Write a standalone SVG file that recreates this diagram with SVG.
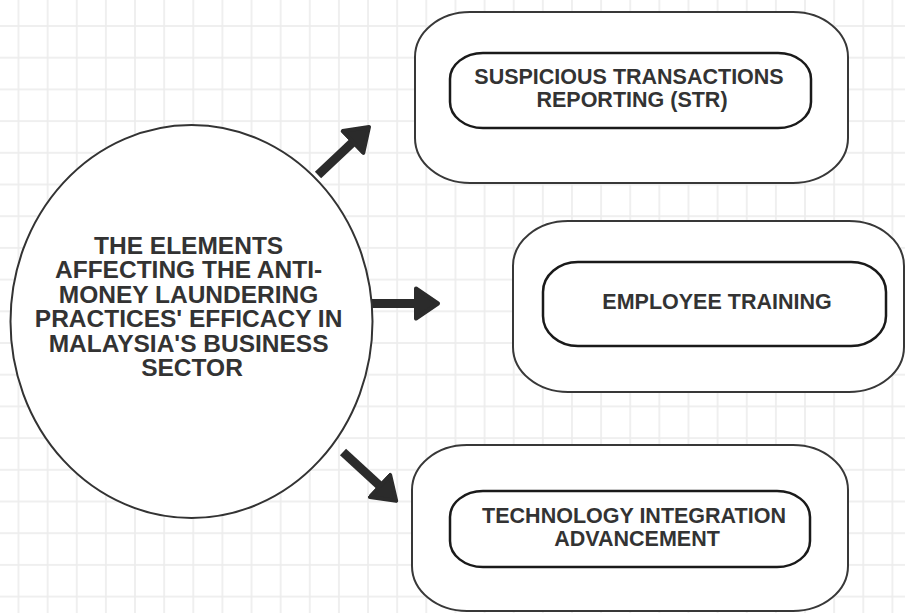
<svg xmlns="http://www.w3.org/2000/svg" width="905" height="613" viewBox="0 0 905 613">
  <style>
    .bg { fill: #ffffff; }
    .outer { fill: #ffffff; stroke: #383838; stroke-width: 2; }
    .inner { fill: #ffffff; stroke: #1a1a1a; stroke-width: 2.5; }
    .hub { fill: #ffffff; stroke: #333333; stroke-width: 2; }
    .label { font-family: "Liberation Sans", Arial, sans-serif; font-weight: bold; fill: #333333; text-anchor: middle; }
    .box-label { font-size: 21.5px; }
    .hub-label { font-size: 24.5px; }
    .link { stroke: #2b2b2b; stroke-width: 9; fill: none; marker-end: url(#head); }
  </style>
  <defs>
    <pattern id="grid" patternUnits="userSpaceOnUse" x="3.93" y="10.15" width="29.13" height="31.7">
      <line x1="14.57" y1="0" x2="14.57" y2="31.7" stroke="#ececec" stroke-width="1.6"/>
      <line x1="0" y1="15.85" x2="29.13" y2="15.85" stroke="#ececec" stroke-width="1.6"/>
    </pattern>
    <marker id="head" markerUnits="userSpaceOnUse" viewBox="0 0 27 36" markerWidth="27" markerHeight="36" refX="2" refY="18" orient="auto">
      <path d="M2,3 L24,18 L2,33 Z" fill="#2b2b2b" stroke="#2b2b2b" stroke-width="4" stroke-linejoin="round"/>
    </marker>
  </defs>

  <!-- canvas with grid -->
  <rect class="bg" x="0" y="0" width="905" height="613"/>
  <rect x="0" y="0" width="905" height="613" fill="url(#grid)"/>

  <!-- connectors -->
  <g id="connectors">
    <line class="link" x1="318" y1="175" x2="353" y2="142"/>
    <line class="link" x1="372" y1="303.5" x2="416" y2="303.5"/>
    <line class="link" x1="343" y1="452" x2="380" y2="486"/>
  </g>

  <!-- central topic -->
  <g id="hub">
    <ellipse class="hub" cx="191.5" cy="321.5" rx="181" ry="196.5"/>
    <text class="label hub-label">
      <tspan x="192" y="254">THE ELEMENTS</tspan>
      <tspan x="192" y="278.4">AFFECTING THE ANTI-</tspan>
      <tspan x="192" y="302.8">MONEY LAUNDERING</tspan>
      <tspan x="192" y="327.2">PRACTICES' EFFICACY IN</tspan>
      <tspan x="192" y="351.6">MALAYSIA'S BUSINESS</tspan>
      <tspan x="192" y="376">SECTOR</tspan>
    </text>
  </g>

  <!-- element: suspicious transactions reporting -->
  <g id="str">
    <rect class="outer" x="415" y="12" width="433" height="171" rx="55" ry="45"/>
    <rect class="inner" x="450" y="53" width="361" height="75" rx="33" ry="26"/>
    <text class="label box-label">
      <tspan x="632" y="83.5">SUSPICIOUS TRANSACTIONS</tspan>
      <tspan x="632" y="106.5">REPORTING (STR)</tspan>
    </text>
  </g>

  <!-- element: employee training -->
  <g id="training">
    <rect class="outer" x="513" y="221" width="391" height="171" rx="55" ry="45"/>
    <rect class="inner" x="543" y="262" width="343" height="84" rx="35" ry="30"/>
    <text class="label box-label" x="717" y="309">EMPLOYEE TRAINING</text>
  </g>

  <!-- element: technology integration -->
  <g id="technology">
    <rect class="outer" x="412" y="445" width="436" height="166" rx="55" ry="45"/>
    <rect class="inner" x="450" y="491" width="360" height="76" rx="33" ry="26"/>
    <text class="label box-label">
      <tspan x="637" y="522.5">TECHNOLOGY INTEGRATION</tspan>
      <tspan x="637" y="545.5">ADVANCEMENT</tspan>
    </text>
  </g>
</svg>
